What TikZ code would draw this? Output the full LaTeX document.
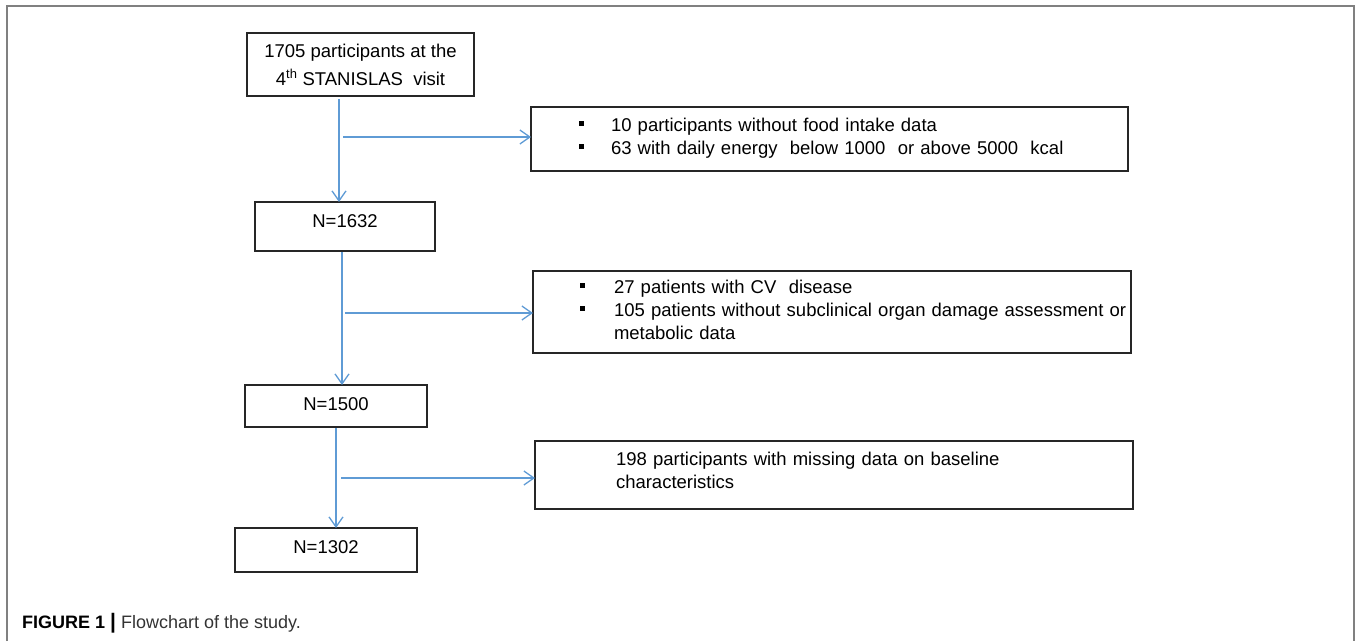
\documentclass[tikz,border=0pt]{standalone}
\usepackage{fontspec}
\setmainfont{Liberation Sans}
\usetikzlibrary{arrows.meta}
\definecolor{flowblue}{RGB}{95,155,213}
\definecolor{framegray}{RGB}{128,128,128}
\newcommand{\liftup}[2]{\raisebox{#1}[\height][\depth]{#2}}
\newcommand{\sqbullet}{\rule[6pt]{5pt}{5pt}}
\begin{document}
\begin{tikzpicture}[x=1pt,y=-1pt,
  box/.style={draw=black!85, line width=1.5pt, rectangle, inner sep=0pt, outer sep=0pt,
    font=\fontsize{18.5}{28}\selectfont},
  sidebox/.style={box, align=left, font=\fontsize{18.5}{23}\selectfont},
  conn/.style={draw=flowblue, line width=1.3pt,
    -{Straight Barb[length=10pt,width=14pt,line width=1.3pt]}},
  ]
\useasboundingbox (0,0) rectangle (1357,641);
\draw[framegray, line width=1.6pt] (7,641) -- (7,6) -- (1354,6) -- (1354,641);

% main column
\node[box, minimum width=227pt, minimum height=63pt, align=center] (b1) at (360.5,64.5)
  {1705 participants at the\\4\textsuperscript{th} STANISLAS\ \ visit};
\node[box, minimum width=180pt, minimum height=49pt] (b2) at (345,226.5) {\liftup{5.5pt}{N=1632}};
\node[box, minimum width=182pt, minimum height=42pt] (b3) at (336,406) {\liftup{2pt}{N=1500}};
\node[box, minimum width=182pt, minimum height=44pt] (b4) at (326,550) {\liftup{3pt}{N=1302}};

% exclusion boxes
\node[sidebox, text width=597pt, minimum height=64pt] (r1) at (829.5,139)
  {\hspace*{48pt}\liftup{0.5pt}{\begin{tabular}{@{}p{32pt}@{}l@{}}
   \sqbullet & 10 participants without food intake data\\
   \sqbullet & 63 with daily energy\ \ below 1000\ \ or above 5000\ \ kcal
   \end{tabular}}};
\node[sidebox, text width=598pt, minimum height=82pt] (r2) at (832,312)
  {\hspace*{46.5pt}\liftup{0pt}{\begin{tabular}{@{}p{34.5pt}@{}l@{}}
   \sqbullet & 27 patients with CV\ \ disease\\
   \sqbullet & 105 patients without subclinical organ damage assessment or\\
             & metabolic data
   \end{tabular}}};
\node[sidebox, text width=598pt, minimum height=68pt] (r3) at (834,475)
  {\hspace*{81pt}\liftup{3pt}{\begin{tabular}{@{}l@{}}
   198 participants with missing data on baseline\\
   characteristics
   \end{tabular}}};

% junction coordinates
\coordinate (v1) at (339,137);
\coordinate (j1) at (343,137);
\coordinate (v2) at (342,313);
\coordinate (j2) at (345,313);
\coordinate (v3) at (336,478);
\coordinate (j3) at (341,478);

% connectors
\draw[conn, shorten <=3pt] (b1.south -| v1) -- (b2.north -| v1);
\draw[conn] (j1) -- (j1 -| r1.west);
\draw[conn, shorten <=1pt] (b2.south -| v2) -- (b3.north -| v2);
\draw[conn] (j2) -- (j2 -| r2.west);
\draw[conn, shorten <=1pt] (b3.south -| v3) -- (b4.north -| v3);
\draw[conn] (j3) -- (j3 -| r3.west);

% caption
\node[anchor=base west, inner sep=0pt, font=\fontsize{18}{20}\selectfont] (cap) at (22,628.5)
  {\textbf{FIGURE 1 {\fontsize{21}{21}\selectfont|}} \textcolor{black!80}{Flowchart of the study.}};
\end{tikzpicture}
\end{document}
